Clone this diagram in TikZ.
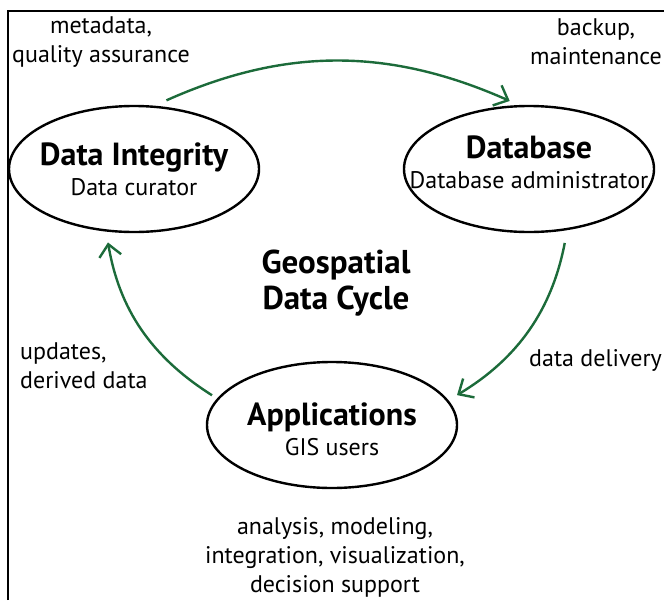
\documentclass[tikz,border=0pt]{standalone}
\usepackage{fontspec}
\setmainfont{PT Sans}
\usetikzlibrary{arrows.meta,shapes.geometric,positioning}
\definecolor{cyclegreen}{RGB}{28,107,58}
\tikzset{
  stage/.style={ellipse,draw,line width=2.4pt,minimum width=250pt,minimum height=126pt,inner sep=0pt},
  stagetext/.style={align=center,inner sep=0pt,font=\fontsize{24}{30}\selectfont},
  flow/.style={-{Straight Barb[length=12pt,width=22pt]},line width=2.4pt,cyclegreen,bend left=24},
  note/.style={align=center,inner sep=0pt,font=\fontsize{24}{29}\selectfont},
  frame/.style={line width=2pt}
}
\newcommand{\stagetitle}[1]{{\fontsize{32}{30}\selectfont\bfseries #1}}

\begin{document}
\begin{tikzpicture}[x=1pt,y=-1pt]
    \useasboundingbox (0,0) rectangle (664,600);
    \draw[frame] (8,600) -- (8,11) -- (664,11);
    \node[stage] (integ) at (134,169) {};
    \node[stage] (dbase) at (529,169) {};
    \node[stage] (apps) at (332,425) {};
    \node[stagetext] (integT) at (integ) {\stagetitle{Data Integrity}\\Data curator};
    \node[stagetext,yshift=7pt] (dbaseT) at (dbase) {\stagetitle{Database}\\Database administrator};
    \node[stagetext,yshift=-4pt] (appsT) at (apps) {\stagetitle{Applications}\\GIS users};
    \node[align=center,inner sep=0pt,font=\fontsize{33}{36}\selectfont\bfseries] (cycle) at (336,283) {Geospatial\\Data Cycle};
    \draw[flow,shorten <=13pt,shorten >=10pt] (integ.72) to (dbase.99);
    \draw[flow,shorten <=13pt,shorten >=10pt] (dbase.-58) to (apps.12);
    \draw[flow,shorten <=6pt,shorten >=11pt] (apps.167) to (integ.246);
    \node[note] (metaN) at (101,42) {metadata,\\quality assurance};
    \node[note] (backupN) at (596,42) {backup,\\maintenance};
    \node[note,align=left,anchor=west] (updateN) at (20,366) {updates,\\derived data};
    \node[note,anchor=west] (deliverN) at (529,360) {data delivery};
    \node[note] (useN) at (335,557) {analysis, modeling,\\integration, visualization,\\decision support};
  \end{tikzpicture}
\end{document}
